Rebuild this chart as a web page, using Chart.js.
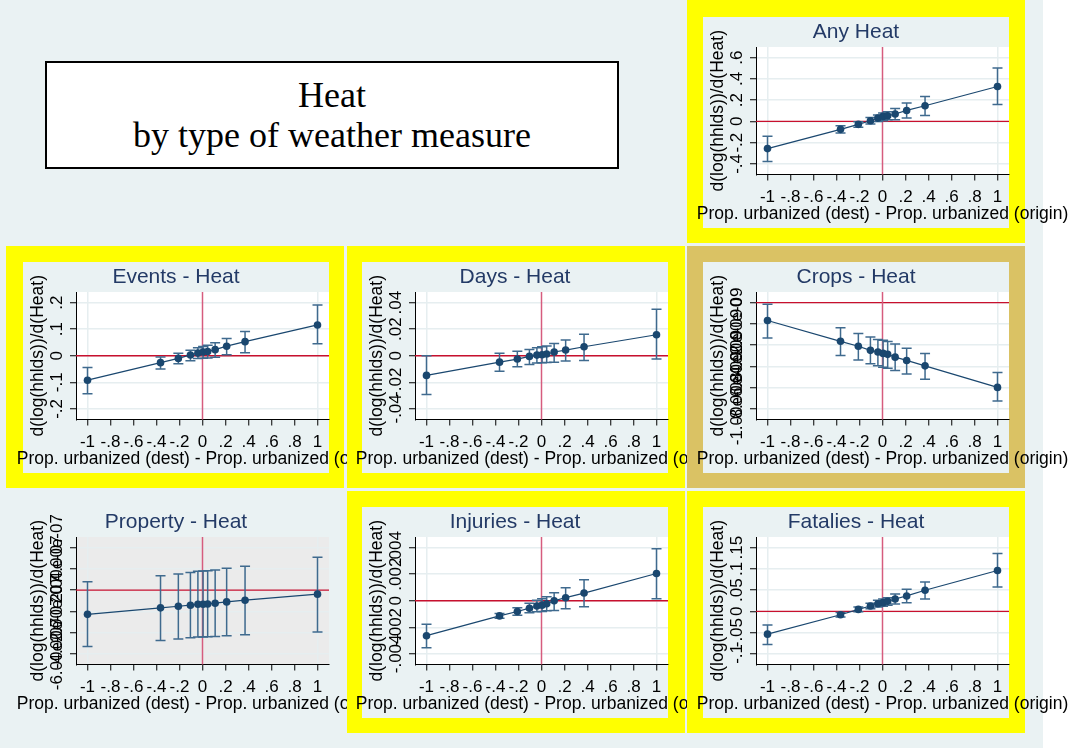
<!DOCTYPE html>
<html>
<head>
<meta charset="utf-8">
<script src="https://cdn.jsdelivr.net/npm/chart.js@4.4.1/dist/chart.umd.min.js"></script>
<style>
  body { margin: 0; background: #fff; }
  #page { position: relative; width: 1077px; height: 748px; overflow: hidden; background: #fff; }
  #graph { position: absolute; left: 0; top: 0; width: 1043px; height: 748px; background: #eaf2f3; }
  .frame, .inner, canvas { position: absolute; }
  .inner { background: #eaf2f3; }
  #titlebox { position: absolute; left: 45px; top: 61px; width: 574px; height: 108px; box-sizing: border-box;
              border: 2px solid #000; background: #fff; }
  .tl { position: absolute; left: 0; width: 100%; text-align: center; font: 36px "Liberation Serif", "Times New Roman", serif;
        line-height: 36px; color: #000; white-space: nowrap; }
</style>
</head>
<body>
<div id="page">
  <div id="graph"></div>
  <div id="titlebox">
    <div class="tl" style="top:13.5px">Heat</div>
    <div class="tl" style="top:53.5px">by type of weather measure</div>
  </div>
</div>
<script>
// x positions of the estimates (same in every panel)
const xVals = [-1, -0.365, -0.21, -0.105, -0.04, 0.005, 0.045, 0.11, 0.21, 0.37, 1];
const xTicks = [-1, -0.8, -0.6, -0.4, -0.2, 0, 0.2, 0.4, 0.6, 0.8, 1];
const xTickLabels = ['-1', '-.8', '-.6', '-.4', '-.2', '0', '.2', '.4', '.6', '.8', '1'];

// Any Heat
const anyEst = [-0.256, -0.075, -0.028, 0.006, 0.031, 0.047, 0.053, 0.069, 0.103, 0.147, 0.328];
const anyLo  = [-0.378, -0.110, -0.056, -0.025, 0.000, 0.006, 0.016, 0.016, 0.031, 0.056, 0.159];
const anyHi  = [-0.140, -0.040, -0.003, 0.037, 0.060, 0.078, 0.090, 0.122, 0.172, 0.234, 0.503];
const anyTicks = [-0.4, -0.2, 0, 0.2, 0.4, 0.6];
const anyLabels = ['-.4', '-.2', '0', '.2', '.4', '.6'];

// Events - Heat
const evEst = [-0.092, -0.026, -0.010, 0.003, 0.010, 0.014, 0.016, 0.023, 0.036, 0.053, 0.116];
const evLo  = [-0.143, -0.050, -0.030, -0.019, -0.010, -0.009, -0.008, -0.006, 0.004, 0.011, 0.045];
const evHi  = [-0.044, -0.005, 0.009, 0.021, 0.030, 0.035, 0.040, 0.049, 0.065, 0.091, 0.191];
const evTicks = [-0.2, -0.1, 0, 0.1, 0.2];
const evLabels = ['-.2', '-.1', '0', '.1', '.2'];

// Days - Heat
const dayEst = [-0.0148, -0.0048, -0.0025, -0.0005, 0.0005, 0.0008, 0.0013, 0.0028, 0.0043, 0.0068, 0.0158];
const dayLo  = [-0.0292, -0.0116, -0.0083, -0.0065, -0.0055, -0.0053, -0.0050, -0.0048, -0.0040, -0.0035, -0.0025];
const dayHi  = [0.0000, 0.0018, 0.0033, 0.0048, 0.0060, 0.0068, 0.0073, 0.0093, 0.0118, 0.0161, 0.0350];
const dayTicks = [-0.04, -0.02, 0, 0.02, 0.04];
const dayLabels = ['-.04', '-.02', '0', '.02', '.04'];

// Crops - Heat
const cropEst = [-1.68e-9, -3.64e-9, -4.11e-9, -4.49e-9, -4.65e-9, -4.78e-9, -4.87e-9, -5.13e-9, -5.44e-9, -5.95e-9, -7.98e-9];
const cropLo  = [-3.32e-9, -4.97e-9, -5.41e-9, -5.76e-9, -5.95e-9, -6.08e-9, -6.17e-9, -6.39e-9, -6.71e-9, -7.22e-9, -9.27e-9];
const cropHi  = [-0.16e-9, -2.37e-9, -2.91e-9, -3.23e-9, -3.48e-9, -3.54e-9, -3.67e-9, -3.89e-9, -4.30e-9, -4.78e-9, -6.58e-9];
const cropTicks = [-1e-8, -8e-9, -6e-9, -4e-9, -2e-9, 0];
const cropLabels = ['-1.00e-08', '-8.00e-09', '-6.00e-09', '-4.00e-09', '-2.00e-09', '0'];

// Property - Heat
const propEst = [-2.28e-7, -1.67e-7, -1.52e-7, -1.42e-7, -1.33e-7, -1.33e-7, -1.30e-7, -1.23e-7, -1.11e-7, -0.95e-7, -0.38e-7];
const propLo  = [-5.31e-7, -4.74e-7, -4.61e-7, -4.49e-7, -4.42e-7, -4.42e-7, -4.39e-7, -4.36e-7, -4.30e-7, -4.20e-7, -3.95e-7];
const propHi  = [0.79e-7, 1.36e-7, 1.52e-7, 1.67e-7, 1.77e-7, 1.80e-7, 1.83e-7, 1.90e-7, 2.05e-7, 2.24e-7, 3.10e-7];
const propTicks = [-6e-7, -4e-7, -2e-7, 0, 2e-7, 4e-7];
const propLabels = ['-6.00e-07', '-4.00e-07', '-2.00e-07', '0', '2.00e-07', '4.00e-07'];

// Injuries - Heat
const injEst = [-0.00263, -0.00114, -0.00081, -0.00056, -0.00040, -0.00033, -0.00023, 0.00000, 0.00023, 0.00058, 0.00205];
const injLo  = [-0.00354, -0.00131, -0.00109, -0.00091, -0.00083, -0.00081, -0.00076, -0.00073, -0.00061, -0.00045, 0.00015];
const injHi  = [-0.00177, -0.00096, -0.00053, -0.00018, 0.00003, 0.00015, 0.00030, 0.00060, 0.00098, 0.00159, 0.00391];
const injTicks = [-0.004, -0.002, 0, 0.002, 0.004];
const injLabels = ['-.004', '-.002', '0', '.002', '.004'];

// Fatalies - Heat
const fatEst = [-0.0536, -0.0079, 0.0047, 0.0126, 0.0180, 0.0205, 0.0237, 0.0292, 0.0363, 0.0497, 0.0962];
const fatLo  = [-0.0780, -0.0134, -0.0008, 0.0063, 0.0103, 0.0118, 0.0142, 0.0174, 0.0205, 0.0292, 0.0576];
const fatHi  = [-0.0320, -0.0024, 0.0103, 0.0190, 0.0260, 0.0290, 0.0323, 0.0410, 0.0520, 0.0690, 0.1360];
const fatTicks = [-0.1, -0.05, 0, 0.05, 0.1, 0.15];
const fatLabels = ['-.1', '-.05', '0', '.05', '.1', '.15'];

const yTitle = 'd(log(hhlds))/d(Heat)';
const xTitle = 'Prop. urbanized (dest) - Prop. urbanized (origin)';

const FONT = '"Liberation Sans", Arial, sans-serif';
const NAVY = '#1a476f';
const ERR = '#3f6a8e';
const GRID = '#e6eef0';
const YELLOW = '#ffff00';
const KHAKI = '#dac264';

// canvas geometry: canvas starts 20px left of the inner panel, extends right for the overflowing x title
const PAD_L = 20, INNER_W = 306, INNER_H = 211, CW = 394;

const panels = [
  { title: 'Any Heat', frame: YELLOW, fx: 687, fy: 0, ix: 703, iy: 17, est: anyEst, lo: anyLo, hi: anyHi, ticks: anyTicks, labels: anyLabels, bg: '#fff' },
  { title: 'Events - Heat', frame: YELLOW, fx: 6, fy: 246, ix: 23, iy: 262, est: evEst, lo: evLo, hi: evHi, ticks: evTicks, labels: evLabels, bg: '#fff' },
  { title: 'Days - Heat', frame: YELLOW, fx: 347, fy: 246, ix: 362, iy: 262, est: dayEst, lo: dayLo, hi: dayHi, ticks: dayTicks, labels: dayLabels, bg: '#fff' },
  { title: 'Crops - Heat', frame: KHAKI, fx: 687, fy: 246, ix: 703, iy: 262, est: cropEst, lo: cropLo, hi: cropHi, ticks: cropTicks, labels: cropLabels, bg: '#fff' },
  { title: 'Property - Heat', frame: null, fx: 6, fy: 491, ix: 23, iy: 507, est: propEst, lo: propLo, hi: propHi, ticks: propTicks, labels: propLabels, bg: '#ebebeb' },
  { title: 'Injuries - Heat', frame: YELLOW, fx: 347, fy: 491, ix: 362, iy: 507, est: injEst, lo: injLo, hi: injHi, ticks: injTicks, labels: injLabels, bg: '#fff' },
  { title: 'Fatalies - Heat', frame: YELLOW, fx: 687, fy: 491, ix: 703, iy: 507, est: fatEst, lo: fatLo, hi: fatHi, ticks: fatTicks, labels: fatLabels, bg: '#fff' }
];

const decor = {
  id: 'decor',
  beforeDraw(chart, args, opts) {
    const { ctx, chartArea: a } = chart;
    ctx.save();
    ctx.fillStyle = opts.bg;
    ctx.fillRect(a.left, a.top, a.right - a.left, a.bottom - a.top);
    ctx.restore();
  },
  beforeDatasetsDraw(chart) {
    const { ctx, chartArea: a, scales: { x, y } } = chart;
    ctx.save();
    // reference lines at zero
    const y0 = y.getPixelForValue(0);
    ctx.strokeStyle = '#c8102e';
    ctx.lineWidth = 1.4;
    ctx.beginPath(); ctx.moveTo(a.left, y0); ctx.lineTo(a.right, y0); ctx.stroke();
    const x0 = x.getPixelForValue(0);
    ctx.strokeStyle = '#d65c7e';
    ctx.lineWidth = 1.5;
    ctx.beginPath(); ctx.moveTo(x0, a.top); ctx.lineTo(x0, a.bottom); ctx.stroke();
    // confidence intervals with caps
    const ds = chart.data.datasets[0];
    ctx.strokeStyle = ERR;
    ctx.lineWidth = 1.5;
    ds.data.forEach((pt, i) => {
      const px = x.getPixelForValue(pt.x);
      const t = y.getPixelForValue(ds.errHi[i]);
      const b = y.getPixelForValue(ds.errLo[i]);
      ctx.beginPath();
      ctx.moveTo(px, t); ctx.lineTo(px, b);
      ctx.moveTo(px - 5, t); ctx.lineTo(px + 5, t);
      ctx.moveTo(px - 5, b); ctx.lineTo(px + 5, b);
      ctx.stroke();
    });
    ctx.restore();
  },
  afterDraw(chart, args, opts) {
    const { ctx, chartArea: a, scales: { y } } = chart;
    ctx.save();
    // panel title
    ctx.fillStyle = '#233a66';
    ctx.font = '21px ' + FONT;
    ctx.textAlign = 'center';
    ctx.textBaseline = 'middle';
    ctx.fillText(opts.title, PAD_L + INNER_W / 2, 15);
    ctx.fillStyle = '#000';
    // y title, rotated
    ctx.font = '17.5px ' + FONT;
    ctx.save();
    ctx.translate(PAD_L + 15, (a.top + a.bottom) / 2);
    ctx.rotate(-Math.PI / 2);
    ctx.fillText(yTitle, 0, 0);
    ctx.restore();
    // y tick labels, rotated (they overlap when long, as in the original)
    ctx.font = '17px ' + FONT;
    y.ticks.forEach((t, i) => {
      ctx.save();
      ctx.translate(PAD_L + 34, y.getPixelForValue(t.value));
      ctx.rotate(-Math.PI / 2);
      ctx.fillText(chart.data.datasets[0].yLabels[i], 0, 0);
      ctx.restore();
    });
    // x title centred on the plot area, allowed to overflow the panel
    ctx.font = '17.5px ' + FONT;
    ctx.fillText(xTitle, (a.left + a.right) / 2, 197.5);
    ctx.restore();
  }
};

const page = document.getElementById('page');

panels.forEach(p => {
  if (p.frame) {
    const f = document.createElement('div');
    f.className = 'frame';
    Object.assign(f.style, { left: p.fx + 'px', top: p.fy + 'px', width: '338px', height: (p.fy === 0 ? 243 : 242) + 'px', background: p.frame });
    page.appendChild(f);
  }
  const inner = document.createElement('div');
  inner.className = 'inner';
  Object.assign(inner.style, { left: p.ix + 'px', top: p.iy + 'px', width: INNER_W + 'px', height: INNER_H + 'px' });
  page.appendChild(inner);

  const cv = document.createElement('canvas');
  cv.width = CW; cv.height = INNER_H;
  Object.assign(cv.style, { left: (p.ix - PAD_L) + 'px', top: p.iy + 'px', width: CW + 'px', height: INNER_H + 'px' });
  page.appendChild(cv);

  const range = p.ticks[p.ticks.length - 1] - p.ticks[0];

  new Chart(cv, {
    type: 'scatter',
    data: {
      datasets: [{
        data: xVals.map((x, i) => ({ x: x, y: p.est[i] })),
        errLo: p.lo,
        errHi: p.hi,
        yLabels: p.labels,
        showLine: true,
        borderColor: NAVY,
        borderWidth: 1.2,
        pointRadius: 3.8,
        pointBackgroundColor: NAVY,
        pointBorderWidth: 0,
        clip: false
      }]
    },
    options: {
      responsive: false,
      devicePixelRatio: 1,
      animation: false,
      layout: { padding: { left: PAD_L, top: 30, right: CW - PAD_L - INNER_W, bottom: 0 } },
      plugins: {
        legend: { display: false },
        tooltip: { enabled: false },
        decor: { title: p.title, bg: p.bg }
      },
      scales: {
        x: {
          type: 'linear',
          min: -1.1,
          max: 1.1,
          afterBuildTicks: s => { s.ticks = xTicks.map(v => ({ value: v })); },
          afterFit: s => { s.height = INNER_H - 157.5; },
          ticks: {
            autoSkip: false, maxRotation: 0, minRotation: 0, padding: 7, color: '#000',
            font: { family: FONT, size: 17 },
            callback: (v, i) => xTickLabels[i]
          },
          grid: {
            color: c => (c.tick && Math.abs(Math.abs(c.tick.value) - 1) < 1e-9) ? GRID : 'rgba(0,0,0,0)',
            lineWidth: 1.5, tickColor: '#000', tickWidth: 1, tickLength: 6
          },
          border: { color: '#000', width: 1 }
        },
        y: {
          type: 'linear',
          min: p.ticks[0] - 0.1 * range,
          max: p.ticks[p.ticks.length - 1] + 0.1 * range,
          afterBuildTicks: s => { s.ticks = p.ticks.map(v => ({ value: v })); },
          afterFit: s => { s.width = 53; },
          ticks: { display: false },
          grid: { color: GRID, lineWidth: 1.5, tickColor: '#000', tickWidth: 1, tickLength: 6 },
          border: { color: '#000', width: 1 }
        }
      }
    },
    plugins: [decor]
  });
});
</script>
</body>
</html>
